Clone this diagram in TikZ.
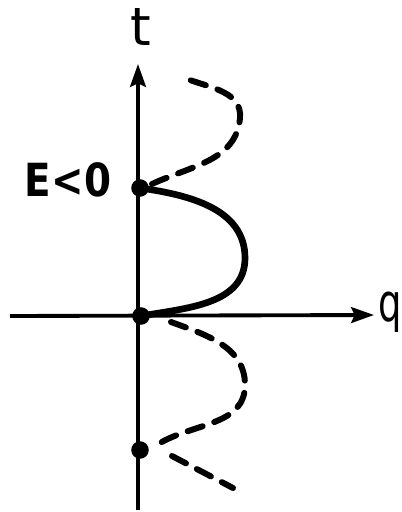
\documentclass[tikz,border=0pt]{standalone}
\usepackage{fontspec}
\setmainfont{DejaVu Sans}
\usetikzlibrary{arrows.meta}
\begin{document}
\begin{tikzpicture}[x=0.02cm,y=-0.02cm,
  axis/.style={line width=2.2pt,-{Stealth[length=13pt,width=9pt,inset=2pt]}},
  solidcurve/.style={line width=3.8pt,line cap=round},
  dashcurve/.style={line width=3.4pt,line cap=round,dash pattern=on 9pt off 7pt},
  dot/.style={circle,fill=black,inner sep=0pt,minimum size=10pt},
  lbl/.style={font=\fontsize{26}{26}\selectfont\bfseries,inner sep=0pt}]
\useasboundingbox (0,0) rectangle (402,512);
% axes
\coordinate (tbot) at (138,510);
\coordinate (ttop) at (138,64);
\coordinate (qleft) at (10,316);
\coordinate (qright) at (374,315);
\draw[axis] (tbot) -- (ttop);
\draw[axis] (qleft) -- (qright);
% points
\node[dot] (A) at (140,188) {};
\node[dot] (O) at (141,316) {};
\node[dot] (B) at (140,450) {};
\coordinate (topend) at (187,79);
\coordinate (botend) at (233,488);
% curves
\draw[solidcurve] (A.center) to[out=-8,in=90] (245,258) to[out=-90,in=10] (O.center);
\draw[dashcurve] (A.center) ++(12,-4) to[out=25,in=-95] (240,118) to[out=85,in=-20] (topend);
\draw[dashcurve] (O.center) ++(30,6) to[out=-20,in=90] (245,385) to[out=-90,in=30] (160,443);
\draw[dashcurve] (B.center) ++(32,6) -- (botend);
% labels
\node[lbl] (tl) at (141,27) {\normalfont\fontsize{30}{30}\selectfont t};
\node[lbl,anchor=east,xscale=0.7] (ql) at (402,312) {\normalfont\fontsize{30}{30}\selectfont q};
\node[lbl,xscale=0.85] (el) at (68,180) {E<0};
\end{tikzpicture}
\end{document}
